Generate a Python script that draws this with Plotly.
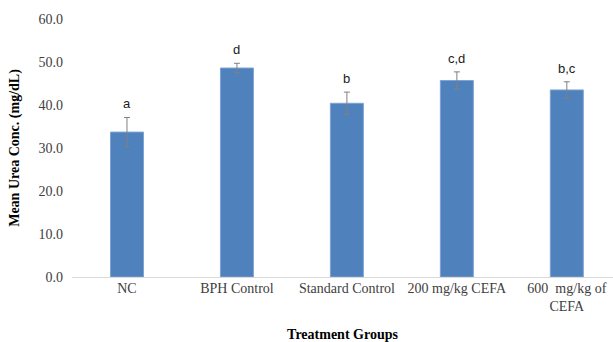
import plotly.graph_objects as go

categories = ["NC", "BPH Control", "Standard Control", "200 mg/kg CEFA", "600  mg/kg of<br>CEFA"]
means = [33.7, 48.6, 40.4, 45.7, 43.5]
errors = [3.4, 1.1, 2.6, 2.0, 1.9]
letters = ["a", "d", "b", "c,d", "b,c"]
y_ticks = [0, 10, 20, 30, 40, 50, 60]

fig = go.Figure()
fig.add_trace(go.Bar(
    x=categories, y=means, width=0.3,
    marker=dict(color="#4F81BD", line=dict(color="#7EA3D3", width=1)),
    error_y=dict(type="data", array=errors, visible=True, color="#808080", thickness=1, width=3),
))
for c, m, e, l in zip(categories, means, errors, letters):
    fig.add_annotation(x=c, y=m + e, text=l, showarrow=False, yanchor="bottom", yshift=4,
                       font=dict(family="Liberation Sans", size=13, color="#1a1a1a"))

fig.update_layout(
    width=613, height=342,
    margin=dict(l=72, r=0, t=19, b=65),
    paper_bgcolor="white", plot_bgcolor="white",
    showlegend=False,
    font=dict(family="Liberation Serif", size=14, color="#595959"),
)
fig.update_xaxes(
    range=[-0.5, 4.42], showline=True, linecolor="#D9D9D9", linewidth=1, automargin=False,
    ticks="", ticklabelstandoff=-2, tickfont=dict(family="Liberation Serif", size=14, color="#404040"),
    title=dict(text="<b>Treatment Groups</b>", font=dict(family="Liberation Serif", size=14, color="#000000"), standoff=16),
)
fig.update_yaxes(
    range=[0, 60], tickvals=y_ticks, tickformat=".1f", showgrid=False, zeroline=False, automargin=False,
    showline=False, ticks="", ticklabelstandoff=8, tickfont=dict(family="Liberation Serif", size=14, color="#404040"),
    title=dict(text="<b>Mean Urea Conc. (mg/dL)</b>", font=dict(family="Liberation Serif", size=14, color="#000000"), standoff=15),
)
fig.write_html("out.html", config={"displayModeBar": False},
               post_script="document.body.style.margin='0';document.body.style.overflow='hidden';")
